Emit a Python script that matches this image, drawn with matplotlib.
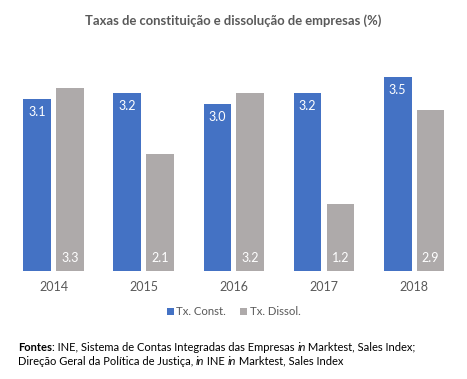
import matplotlib
matplotlib.use("Agg")
import matplotlib.pyplot as plt
import numpy as np
from matplotlib.offsetbox import TextArea, HPacker, AnchoredOffsetbox

years = ["2014", "2015", "2016", "2017", "2018"]
tx_const = [3.1, 3.2, 3.0, 3.2, 3.5]
tx_dissol = [3.3, 2.1, 3.2, 1.2, 2.9]
series_names = ["Tx. Const.", "Tx. Dissol."]
title = "Taxas de constituição e dissolução de empresas (%)"

blue = "#4472C4"
gray = "#AEAAAA"
txt = "#595959"
font = ["Lato", "DejaVu Sans"]
plt.rcParams["font.family"] = font

fig = plt.figure(figsize=(4.67, 3.79), dpi=100)
ax = fig.add_axes([0.019, 0.285, 0.964, 0.586])

x = np.arange(len(years))
w = 0.31
off = 0.183
b1 = ax.bar(x - off, tx_const, w, color=blue, label=series_names[0])
b2 = ax.bar(x + off, tx_dissol, w, color=gray, label=series_names[1])

for rect, v in zip(b1, tx_const):
    ax.annotate(f"{v:.1f}", (rect.get_x() + rect.get_width() / 2, v),
                xytext=(0, -13), textcoords="offset pixels",
                ha="center", va="center", color="white", fontsize=9)
for rect, v in zip(b2, tx_dissol):
    ax.annotate(f"{v:.1f}", (rect.get_x() + rect.get_width() / 2, 0),
                xytext=(0, 13), textcoords="offset pixels",
                ha="center", va="center", color="white", fontsize=9)

ax.set_xlim(-0.5, len(years) - 0.5)
ax.set_ylim(0, 4)
ax.set_xticks(x)
ax.set_xticklabels(years, color=txt, fontsize=9)
ax.tick_params(axis="x", length=0, pad=7)
ax.set_yticks([])
for s in ax.spines.values():
    s.set_visible(False)

fig.text(0.5, 0.945, title, ha="center", va="center", fontsize=9.4, fontweight="bold", color=txt)

leg = fig.legend(handles=[b1, b2], labels=series_names, loc="center", bbox_to_anchor=(0.5, 0.177),
                 ncol=2, frameon=False, fontsize=8.2, handlelength=0.65, handleheight=0.65,
                 handletextpad=0.2, columnspacing=1.2, labelcolor=txt)


def line(parts):
    boxes = []
    for t, style in parts:
        props = dict(fontsize=8, color="black", family=font)
        if style == "b":
            props["fontweight"] = "bold"
        if style == "i":
            props["fontstyle"] = "italic"
        boxes.append(TextArea(t, textprops=props))
    return HPacker(children=boxes, align="baseline", pad=0, sep=0)


l1 = line([("Fontes", "b"), (": INE, Sistema de Contas Integradas das Empresas ", ""), ("in", "i"),
           (" Marktest, Sales Index;", "")])
l2 = line([("Direção Geral da Política de Justiça, ", ""), ("in", "i"), (" INE ", ""), ("in", "i"),
           (" Marktest, Sales Index", "")])
for lb, yy in ((l1, 0.084), (l2, 0.047)):
    ab = AnchoredOffsetbox(loc="center left", child=lb, pad=0, frameon=False,
                           bbox_to_anchor=(0.038, yy), bbox_transform=fig.transFigure, borderpad=0)
    fig.add_artist(ab)

fig.savefig("out.png", dpi=100)
